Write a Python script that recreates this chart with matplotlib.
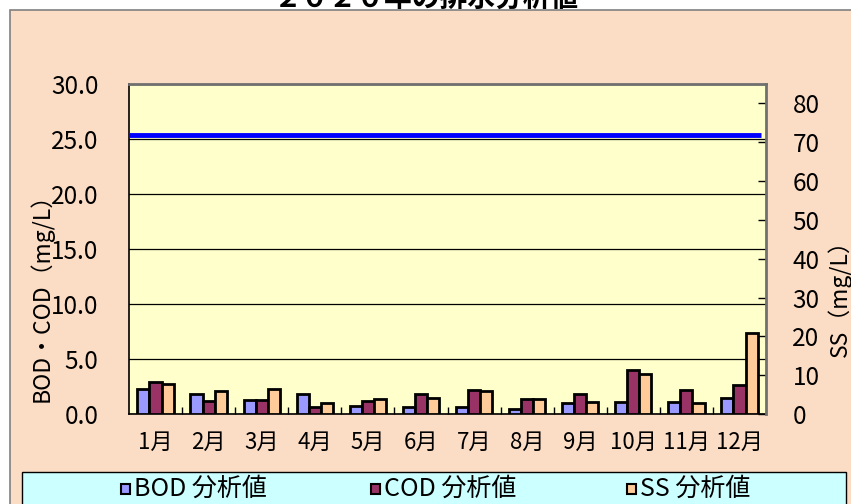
import numpy as np
import matplotlib
matplotlib.use("Agg")
import matplotlib.pyplot as plt
from matplotlib.patches import Rectangle

plt.rcParams['font.family'] = ['Noto Sans CJK JP', 'DejaVu Sans']

# data
months = ['1月', '2月', '3月', '4月', '5月', '6月', '7月', '8月', '9月', '10月', '11月', '12月']
bod = [2.3, 1.8, 1.3, 1.8, 0.75, 0.6, 0.6, 0.45, 1.0, 1.05, 1.05, 1.5]
cod = [2.9, 1.2, 1.3, 0.65, 1.2, 1.8, 2.2, 1.35, 1.8, 4.0, 2.2, 2.6]
ss = [7.6, 5.8, 6.4, 2.8, 3.8, 4.2, 5.8, 3.9, 3.0, 10.2, 2.9, 20.9]
limit = 25.4
series_names = ['BOD 分析値', 'COD 分析値', 'SS 分析値']
series_colors = ['#9999FF', '#993366', '#FFCC99']

W, H = 851, 504
fig = plt.figure(figsize=(W / 100, H / 100), dpi=100)
fig.patch.set_facecolor('white')

# peach chart area
fig.patches.append(Rectangle((10 / W, -0.02), 1, 1 - 10 / H + 0.02, transform=fig.transFigure,
                             facecolor='#FBDCC4', edgecolor='#808080', lw=1.2, zorder=-10))
fig.text(0.5, 1 - 7 / H, '２０２０年の排水分析値', ha='center', va='baseline',
         fontsize=20, fontweight='bold')

ax = fig.add_axes([129 / W, 1 - 414 / H, (766 - 129) / W, (414 - 84) / H])
ax.set_facecolor('#FFFFCC')
ax2 = ax.twinx()

x = np.arange(len(months))
w = 0.228
kw = dict(edgecolor='black', linewidth=2.0, zorder=3)
ax.bar(x - w, bod, w, color=series_colors[0], **kw)
ax.bar(x, cod, w, color=series_colors[1], **kw)
ax2.bar(x + w, ss, w, color=series_colors[2], **kw)
ax.hlines(limit, -0.5, 11.4, color='#0000FF', lw=3.5, zorder=4)

ax.set_xlim(-0.5, 11.5)
ax.set_ylim(0, 30)
ax2.set_ylim(0, 85)

ax.set_yticks(np.arange(0, 31, 5))
ax.set_yticklabels(['%.1f' % v for v in np.arange(0, 31, 5)])
ax.yaxis.grid(True, color='black', lw=0.9)
ax.set_axisbelow(True)
ax.tick_params(axis='y', length=0, pad=22, labelsize=17.5)

ax2.set_yticks(np.arange(0, 81, 10))
ax2.tick_params(axis='y', direction='in', length=6, width=1, pad=19, labelsize=17.5)

ax.set_xticks(x)
ax.set_xticklabels(months)
ax.set_xticks(x[:-1] + 0.5, minor=True)
ax.tick_params(axis='x', which='major', length=0, pad=12, labelsize=16)
ax.tick_params(axis='x', which='minor', direction='in', length=5, width=1)

for s in ['left', 'bottom']:
    ax.spines[s].set_color('black')
    ax.spines[s].set_linewidth(1.2)
ax.spines['top'].set_color('#707070')
ax.spines['top'].set_linewidth(2)
ax.spines['right'].set_visible(False)
for s in ['left', 'bottom', 'top']:
    ax2.spines[s].set_visible(False)
ax2.spines['right'].set_color('#707070')
ax2.spines['right'].set_linewidth(2)

fig.text(41 / W, 1 - 292 / H, 'BOD・COD（mg/L）', rotation=90, ha='center', va='center', fontsize=16.5)
fig.text(840 / W, 1 - 293 / H, 'SS（mg/L）', rotation=90, ha='center', va='center', fontsize=16.5)

# legend box
fig.patches.append(Rectangle((22 / W, -0.02), (846 - 22) / W, (H - 472) / H + 0.02,
                             transform=fig.transFigure, facecolor='#CCFFFF',
                             edgecolor='black', lw=1))
for name, color, xm in zip(series_names, series_colors, [121, 371, 627]):
    fig.patches.append(Rectangle((xm / W, 1 - 494 / H), 9 / W, 10 / H, transform=fig.transFigure,
                                 facecolor=color, edgecolor='black', lw=1.5))
    fig.text((xm + 13) / W, 1 - 489 / H, name, ha='left', va='center', fontsize=18)

fig.savefig('out.png', dpi=100)
